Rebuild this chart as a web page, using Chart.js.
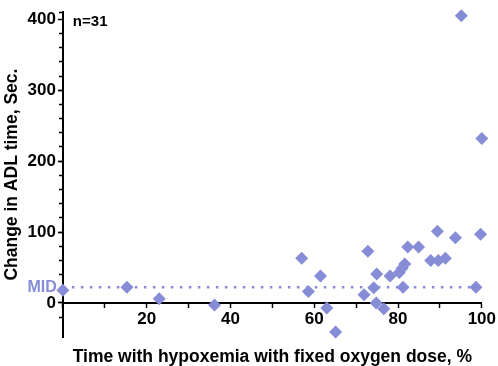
<!DOCTYPE html>
<html>
<head>
<meta charset="utf-8">
<script src="https://cdn.jsdelivr.net/npm/chart.js@4"></script>
<style>
  html, body { margin: 0; padding: 0; background: #ffffff; }
  #c { display: block; }
</style>
</head>
<body>
<canvas id="c" width="498" height="366"></canvas>
<script>
// ---- data ----
const timeHypoxemia = [0, 15.3, 23, 36.2, 95.1, 100, 57, 58.6, 61.5, 63, 65.1, 71.9, 72.8, 74.2, 74.9, 74.8, 76.6, 78.1, 80.3, 81, 81.6, 81.2, 82.3, 84.9, 87.8, 89.4, 89.6, 91.3, 93.7, 99.7, 98.6];
const changeADL     = [18, 22, 6, -3, 405, 232, 63, 16, 38, -7, -41, 11.5, 73, 21.6, 41, 0, -8, 38, 43, 49, 55, 22, 79, 79, 60, 101, 60, 63, 92, 97, 22];
const midValue = 22;
const midLabel = 'MID';
const nLabel = 'n=31';
const xTickLabels = [20, 40, 60, 80, 100];
const yTickLabels = [0, 100, 200, 300, 400];
const xTitle = 'Time with hypoxemia with fixed oxygen dose, %';
const yTitle = 'Change in ADL time, Sec.';

const lavender = '#868dd6';
const FONT = '"Liberation Sans", Arial, sans-serif';

const points = timeHypoxemia.map((x, i) => ({ x: x, y: changeADL[i] }));
const midLine = [{ x: 0, y: midValue }, { x: 100, y: midValue }];

const labelPlugin = {
  id: 'labels',
  beforeDatasetsDraw(chart) {
    // vertical axis line at x = 0
    const { ctx, scales } = chart;
    const px = Math.round(scales.x.getPixelForValue(0));
    ctx.save();
    ctx.strokeStyle = '#000';
    ctx.lineWidth = 2;
    ctx.beginPath();
    ctx.moveTo(px, scales.y.top - 1);
    ctx.lineTo(px, scales.y.bottom);
    ctx.stroke();
    ctx.restore();
  },
  afterDatasetsDraw(chart) {
    const { ctx, chartArea, scales } = chart;
    ctx.save();
    ctx.font = 'bold 16px ' + FONT;
    ctx.fillStyle = lavender;
    ctx.textAlign = 'right';
    ctx.textBaseline = 'middle';
    ctx.fillText(midLabel, chartArea.left - 6, scales.y.getPixelForValue(midValue));
    ctx.font = 'bold 15px ' + FONT;
    ctx.fillStyle = '#000';
    ctx.textAlign = 'left';
    ctx.fillText(nLabel, chartArea.left + 10, chartArea.top + 10);
    ctx.restore();
  }
};

new Chart(document.getElementById('c'), {
  type: 'scatter',
  data: {
    datasets: [
      {
        data: points,
        pointStyle: 'rectRot',
        pointRadius: 6.5,
        pointHoverRadius: 6.5,
        backgroundColor: lavender,
        borderColor: lavender,
        borderWidth: 0,
        clip: false
      },
      {
        type: 'line',
        data: midLine,
        borderColor: lavender,
        borderWidth: 2.5,
        borderDash: [2.5, 6.5],
        pointRadius: 0,
        fill: false,
        clip: false
      }
    ]
  },
  options: {
    responsive: false,
    devicePixelRatio: 1,
    animation: false,
    layout: { padding: { top: 6, bottom: 29, right: 15, left: 0 } },
    plugins: { legend: { display: false }, tooltip: { enabled: false } },
    scales: {
      x: {
        type: 'linear',
        position: { y: 0 },
        min: 0, max: 100,
        border: { color: '#000', width: 2 },
        grid: { drawOnChartArea: false, drawTicks: true, tickLength: 4, tickWidth: 1.5, tickColor: '#000' },
        ticks: {
          stepSize: 10,
          padding: 2,
          color: '#000',
          font: { family: FONT, size: 17, weight: 'bold' },
          maxRotation: 0,
          autoSkip: false,
          callback: v => xTickLabels.includes(v) ? String(v) : ''
        },
        title: {
          display: true,
          text: xTitle,
          color: '#000',
          font: { family: FONT, size: 17.5, weight: 'bold' },
          padding: { top: 15, bottom: 0 }
        }
      },
      y: {
        type: 'linear',
        position: 'left',
        min: -48, max: 410,
        border: { color: '#000', width: 2 },
        grid: { drawOnChartArea: false, drawTicks: true, tickLength: 5, tickWidth: 1.5, tickColor: '#000' },
        ticks: {
          stepSize: 100,
          includeBounds: false,
          padding: 2,
          color: '#000',
          font: { family: FONT, size: 17, weight: 'bold' },
          callback: v => yTickLabels.includes(v) ? String(v) : ''
        },
        title: {
          display: true,
          text: yTitle,
          color: '#000',
          font: { family: FONT, size: 17.5, weight: 'bold' },
          padding: { top: 2, bottom: 2.5 }
        }
      },
      y2: {
        type: 'linear',
        axis: 'y',
        position: { x: 0 },
        min: -48, max: 410,
        border: { display: true, color: '#000', width: 2 },
        grid: {
          drawOnChartArea: false, drawTicks: true, tickLength: 3, tickWidth: 1.5,
          tickColor: c => (c.tick && c.tick.value < -40) ? 'rgba(0,0,0,0)' : '#000'
        },
        ticks: { stepSize: 20, display: false }
      }
    }
  },
  plugins: [labelPlugin]
});
</script>
</body>
</html>
